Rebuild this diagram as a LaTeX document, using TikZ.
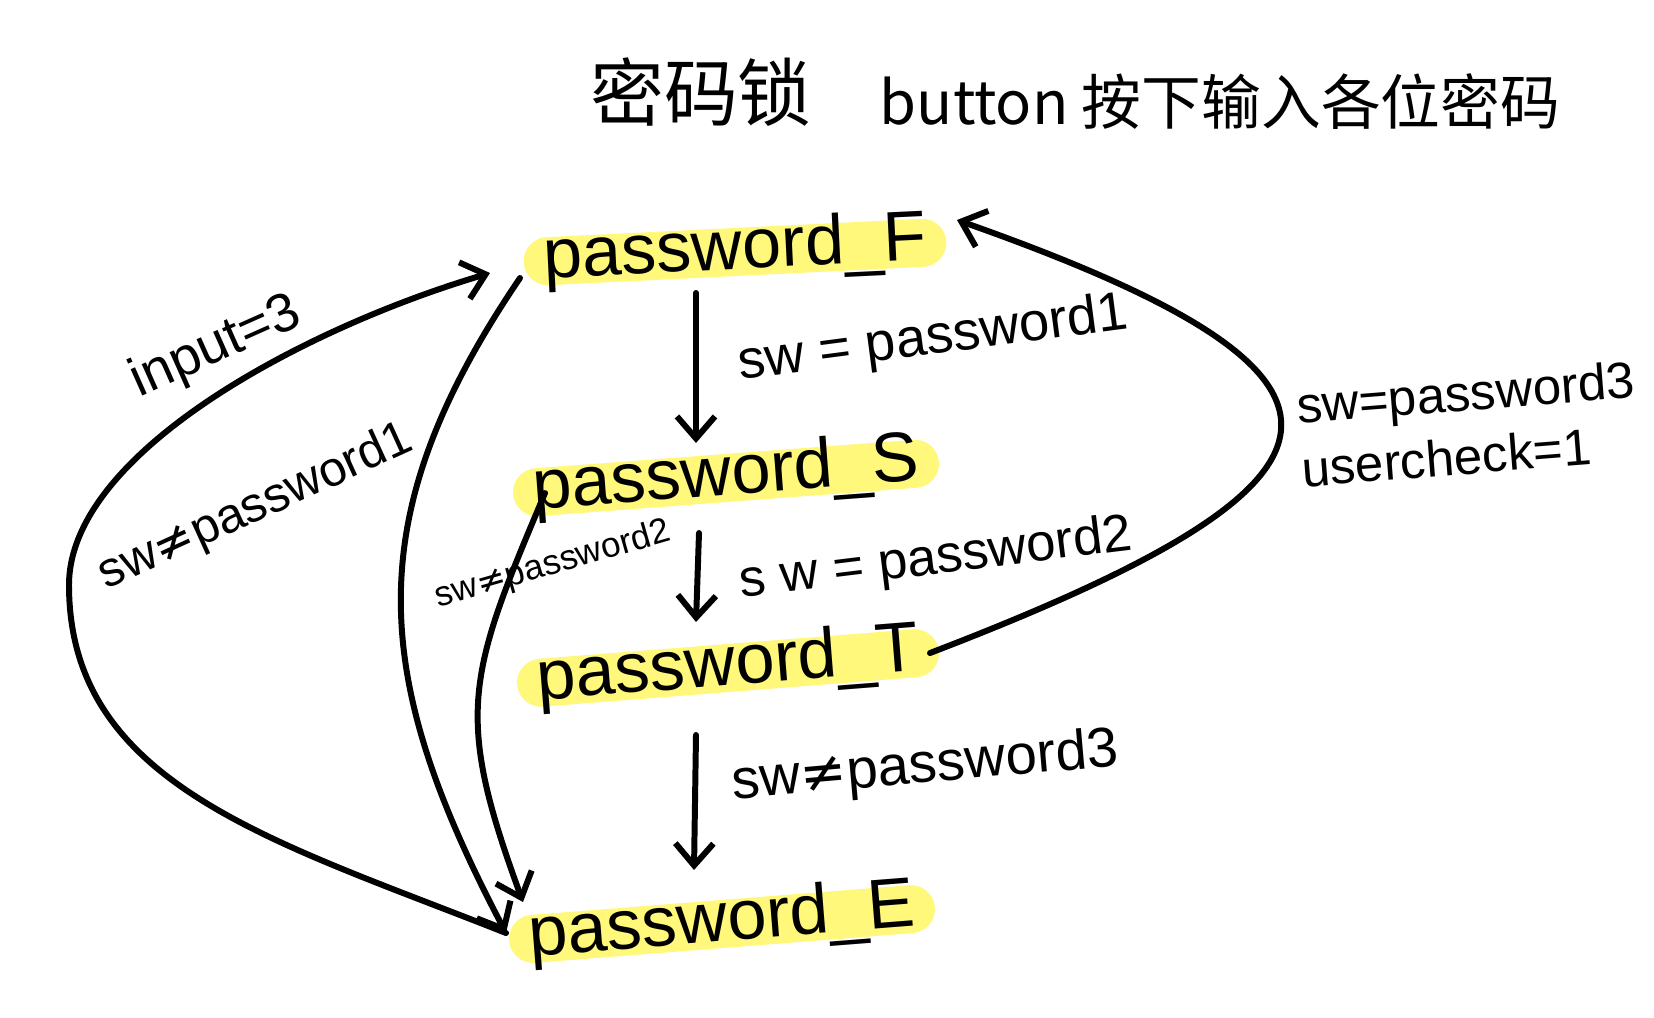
\documentclass[tikz,border=0pt]{standalone}
\usepackage{fontspec}
\setmainfont{Liberation Sans}
\newfontfamily\cjk{Noto Sans CJK SC}
\newfontfamily\dv{DejaVu Sans}
\usetikzlibrary{arrows.meta,calc}
\definecolor{hl}{RGB}{255,248,122}
\newcommand{\neqsym}{{\dv ≠}}
\begin{document}
\begin{tikzpicture}[x=0.01cm,y=-0.01cm,
  statebox/.style={fill=hl, rounded corners=0.24cm, minimum width=4.2cm, inner xsep=0.2cm, inner ysep=0.07cm, text height=0.34cm, text depth=0cm, font=\fontsize{20}{24}\selectfont},
  lbl/.style={inner sep=0pt, font=\fontsize{15.5}{18}\selectfont},
  edge/.style={line width=1.7pt, line cap=round, -{Straight Barb[length=0.22cm,width=0.38cm,line width=1.7pt]}}
]
\useasboundingbox (0,0) rectangle (1654,1017);
\fill[white] (0,0) rectangle (1654,1017);

% titles
\node[font=\cjk\fontsize{21}{24}\selectfont] (title) at (701,92) {密码锁};
\node[font=\cjk\fontsize{17}{22}\selectfont] (sub) at (1220,102) {button 按下输入各位密码};

% states
\node[statebox, rotate=2.8] (F) at (735,252) {password\_F};
\node[statebox, rotate=4.3] (S) at (726,478) {password\_S};
\node[statebox, rotate=4.5] (T) at (728,668) {password\_T};
\node[statebox, rotate=4.5] (E) at (722,924) {password\_E};

\coordinate (lm) at (69,585);

% connectors
\draw[edge] ($(F.center)+(-39,41)$) -- ($(S.center)+(-30,-35)$);
\draw[edge] ($(S.center)+(-27,55)$) -- ($(T.center)+(-32,-46)$);
\draw[edge] ($(T.center)+(-32,67)$) -- ($(E.center)+(-28,-54)$);
\draw[edge] ($(T.center)+(202,-15)$) .. controls +(446,-171) and +(451,159) .. ($(F.center)+(222,-32)$);
\draw[edge] ($(E.center)+(-216,9)$) .. controls +(-232,-92) and +(0,200) .. (lm)
   .. controls +(0,-130) and +(-192,57) .. ($(F.center)+(-245,21)$);
\draw[edge] ($(F.center)+(-215,26)$) .. controls +(-163,240) and +(-135,-257) .. ($(E.center)+(-216,9)$);
\draw[edge] ($(S.center)+(-181,15)$) .. controls +(-78,184) and +(-69,-188) .. ($(E.center)+(-199,-22)$);

% labels
\node[lbl, rotate=7.5] (l1) at (933,340) {sw = password1};
\node[lbl, font=\fontsize{15}{18}\selectfont, rotate=7] (l2) at (936,560) {s w = password2};
\node[lbl, font=\fontsize{16}{18}\selectfont, rotate=5] (l3) at (925,768) {sw\neqsym password3};
\node[lbl, font=\fontsize{14.5}{18}\selectfont, rotate=4.5, align=left] (l4) at (1468,424) {sw=password3\\usercheck=1};
\node[lbl, rotate=24] (l5) at (216,348) {input=3};
\node[lbl, font=\fontsize{14}{17}\selectfont, rotate=24.5] (l6) at (256,508) {sw\neqsym password1};
\node[lbl, font=\fontsize{10}{12}\selectfont, rotate=16] (l7) at (553,565) {sw\neqsym password2};
\end{tikzpicture}
\end{document}
